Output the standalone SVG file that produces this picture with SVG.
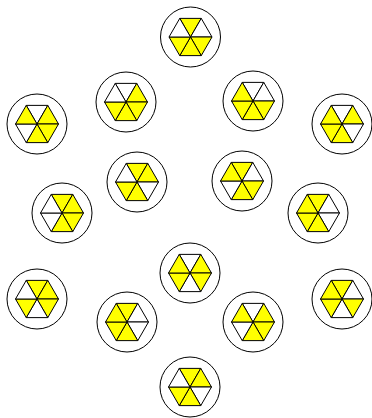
<svg xmlns="http://www.w3.org/2000/svg" xmlns:xlink="http://www.w3.org/1999/xlink" width="372" height="418" viewBox="0 0 372 418">
<style>
.ring{fill:#fff;stroke:#000;stroke-width:1}
.y{fill:#ffff00;stroke:#000;stroke-width:1;stroke-linejoin:round}
.w{fill:#fff;stroke:#000;stroke-width:1;stroke-linejoin:round}
</style>
<defs>
<path id="T" d="M0 0L-10.75 -18.62L10.75 -18.62Z"/>
<path id="UR" d="M0 0L10.75 -18.62L21.5 0Z"/>
<path id="LR" d="M0 0L21.5 0L10.75 18.62Z"/>
<path id="B" d="M0 0L10.75 18.62L-10.75 18.62Z"/>
<path id="LL" d="M0 0L-10.75 18.62L-21.5 0Z"/>
<path id="UL" d="M0 0L-21.5 0L-10.75 -18.62Z"/>
</defs>
<g id="connectors"></g>
<g id="n1" transform="translate(190.5,37)"><circle class="ring" r="30"/><use href="#T" class="y"/><use href="#UR" class="w"/><use href="#LR" class="y"/><use href="#B" class="y"/><use href="#LL" class="y"/><use href="#UL" class="w"/></g>
<g id="n2" transform="translate(126,102)"><circle class="ring" r="30"/><use href="#T" class="w"/><use href="#UR" class="y"/><use href="#LR" class="y"/><use href="#B" class="y"/><use href="#LL" class="y"/><use href="#UL" class="w"/></g>
<g id="n3" transform="translate(253,101)"><circle class="ring" r="30"/><use href="#T" class="w"/><use href="#UR" class="w"/><use href="#LR" class="y"/><use href="#B" class="y"/><use href="#LL" class="y"/><use href="#UL" class="y"/></g>
<g id="n4" transform="translate(37,124)"><circle class="ring" r="30"/><use href="#T" class="w"/><use href="#UR" class="y"/><use href="#LR" class="y"/><use href="#B" class="y"/><use href="#LL" class="w"/><use href="#UL" class="y"/></g>
<g id="n5" transform="translate(342,124)"><circle class="ring" r="30"/><use href="#T" class="w"/><use href="#UR" class="y"/><use href="#LR" class="w"/><use href="#B" class="y"/><use href="#LL" class="y"/><use href="#UL" class="y"/></g>
<g id="n6" transform="translate(137,182)"><circle class="ring" r="30"/><use href="#T" class="y"/><use href="#UR" class="y"/><use href="#LR" class="w"/><use href="#B" class="y"/><use href="#LL" class="y"/><use href="#UL" class="w"/></g>
<g id="n7" transform="translate(242,181)"><circle class="ring" r="30"/><use href="#T" class="y"/><use href="#UR" class="w"/><use href="#LR" class="y"/><use href="#B" class="y"/><use href="#LL" class="w"/><use href="#UL" class="y"/></g>
<g id="n8" transform="translate(62,213)"><circle class="ring" r="30"/><use href="#T" class="y"/><use href="#UR" class="y"/><use href="#LR" class="y"/><use href="#B" class="y"/><use href="#LL" class="w"/><use href="#UL" class="w"/></g>
<g id="n9" transform="translate(318,213)"><circle class="ring" r="30"/><use href="#T" class="y"/><use href="#UR" class="w"/><use href="#LR" class="w"/><use href="#B" class="y"/><use href="#LL" class="y"/><use href="#UL" class="y"/></g>
<g id="n10" transform="translate(190,273)"><circle class="ring" r="30"/><use href="#T" class="w"/><use href="#UR" class="y"/><use href="#LR" class="y"/><use href="#B" class="w"/><use href="#LL" class="y"/><use href="#UL" class="y"/></g>
<g id="n11" transform="translate(37,299)"><circle class="ring" r="30"/><use href="#T" class="y"/><use href="#UR" class="y"/><use href="#LR" class="y"/><use href="#B" class="w"/><use href="#LL" class="y"/><use href="#UL" class="w"/></g>
<g id="n12" transform="translate(342,299)"><circle class="ring" r="30"/><use href="#T" class="y"/><use href="#UR" class="w"/><use href="#LR" class="y"/><use href="#B" class="w"/><use href="#LL" class="y"/><use href="#UL" class="y"/></g>
<g id="n13" transform="translate(127,322)"><circle class="ring" r="30"/><use href="#T" class="y"/><use href="#UR" class="w"/><use href="#LR" class="w"/><use href="#B" class="y"/><use href="#LL" class="y"/><use href="#UL" class="y"/></g>
<g id="n14" transform="translate(253,322)"><circle class="ring" r="30"/><use href="#T" class="w"/><use href="#UR" class="y"/><use href="#LR" class="y"/><use href="#B" class="y"/><use href="#LL" class="w"/><use href="#UL" class="y"/></g>
<g id="n15" transform="translate(190,387)"><circle class="ring" r="30"/><use href="#T" class="y"/><use href="#UR" class="y"/><use href="#LR" class="w"/><use href="#B" class="y"/><use href="#LL" class="y"/><use href="#UL" class="w"/></g>
</svg>
